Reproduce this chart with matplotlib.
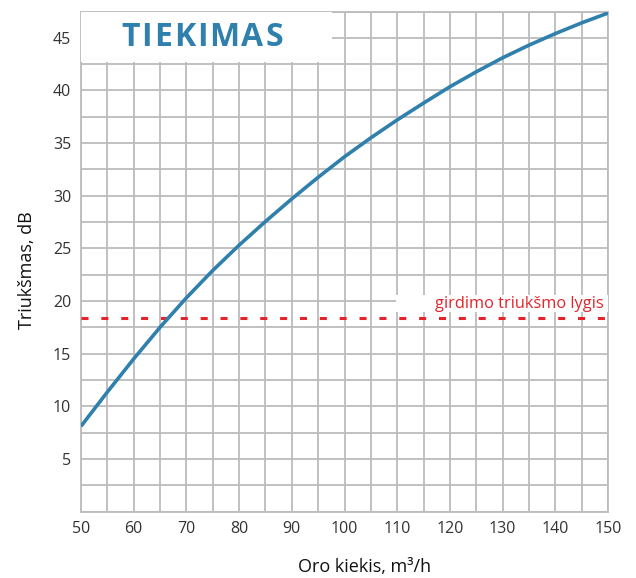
import matplotlib
matplotlib.use("Agg")
import matplotlib.pyplot as plt
from matplotlib.patches import Rectangle
from matplotlib.ticker import MultipleLocator

plt.rcParams['font.family'] = ['Open Sans', 'DejaVu Sans']

# Data
airflow = [50, 55, 60, 65, 70, 75, 80, 85, 90, 95, 100, 105, 110, 115, 120,
           125, 130, 135, 140, 145, 150]
noise = [8.1, 11.35, 14.5, 17.5, 20.3, 22.9, 25.3, 27.55, 29.7, 31.75, 33.7,
         35.5, 37.2, 38.8, 40.35, 41.77, 43.1, 44.3, 45.4, 46.42, 47.35]
audible_level = 18.4
x_ticks = [50, 60, 70, 80, 90, 100, 110, 120, 130, 140, 150]
y_ticks = [5, 10, 15, 20, 25, 30, 35, 40, 45]
title_text = "TIEKIMAS"
level_label = "girdimo triukšmo lygis"
x_label = "Oro kiekis, m³/h"
y_label = "Triukšmas, dB"

blue = "#2f80ac"
red = "#e3242b"
grid_c = "#bcbcbc"

W, H = 636, 578
fig = plt.figure(figsize=(W / 100, H / 100), dpi=100)
ax = fig.add_axes([81 / W, 1 - 511.5 / H, 527 / W, 500 / H])

ax.set_xlim(50, 150)
ax.set_ylim(0, 47.5)
ax.set_xticks(x_ticks)
ax.set_yticks(y_ticks)
ax.xaxis.set_minor_locator(MultipleLocator(5))
ax.yaxis.set_minor_locator(MultipleLocator(2.5))
ax.grid(True, which='both', color=grid_c, lw=1.3, zorder=0)
ax.set_axisbelow(True)
for s in ax.spines.values():
    s.set_color(grid_c)
    s.set_linewidth(1.3)
ax.tick_params(which='both', length=0, labelsize=11.5, colors='#333333')
ax.tick_params(axis='x', pad=7)
ax.tick_params(axis='y', pad=7)

ax.plot(airflow, noise, color=blue, lw=2.6, zorder=5, solid_capstyle='butt')
ax.axhline(audible_level, color=red, lw=2.2, linestyle=(0, (2.3, 4.2)), zorder=4)

# label for audible level
ax.add_patch(Rectangle((109.8, 18.95), 40.2, 1.6, facecolor='white', edgecolor='none', zorder=3))
ax.text(149.1, 19.75, level_label, color=red, fontsize=11.8, ha='right', va='center', zorder=6)

# Title box
ax.add_patch(Rectangle((50, 42.75), 47.6, 4.75, facecolor='white', edgecolor='none', zorder=3))

# letter-spaced title
fig.canvas.draw()
renderer = fig.canvas.get_renderer()
target_w = 162.0
fs = 23
widths = []
tmp = []
for ch in title_text:
    t = fig.text(0, 0, ch, fontsize=fs, fontweight='bold', family='Open Sans')
    widths.append(t.get_window_extent(renderer).width)
    tmp.append(t)
for t in tmp:
    t.remove()
gap = (target_w - sum(widths)) / (len(title_text) - 1)
x0 = 202 - target_w / 2
yc = 1 - 38 / H
xp = x0
for ch, w in zip(title_text, widths):
    fig.text(xp / W, yc, ch, fontsize=fs, fontweight='bold', color=blue,
             ha='left', va='center', family='Open Sans', zorder=10)
    xp += w + gap

fig.text(365 / W, 1 - 567 / H, x_label, fontsize=13, ha='center', va='center', color='#111111')
fig.text(27 / W, 1 - 270 / H, y_label, fontsize=13, ha='center', va='center',
         rotation=90, color='#111111')

fig.savefig("out.png", dpi=100)
